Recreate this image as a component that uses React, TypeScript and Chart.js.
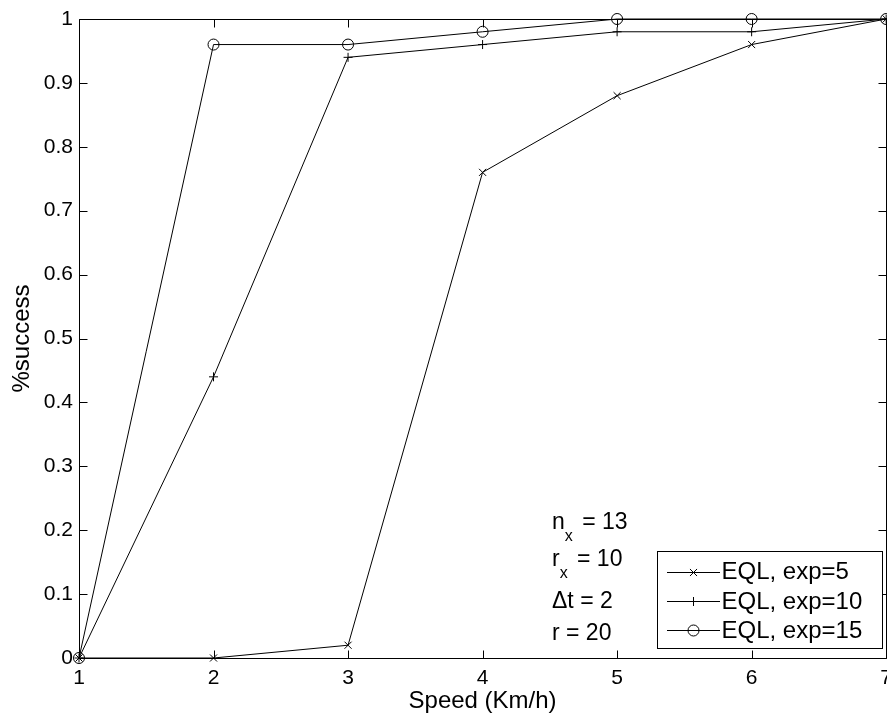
import React, { useEffect, useRef } from "react";
import { Chart, registerables } from "chart.js";
import { drawPoint } from "chart.js/helpers";

Chart.register(...registerables);

// Success rate vs. walking speed for three exploration budgets
const speeds = [1, 2, 3, 4, 5, 6, 7];
const successExp5 = [0, 0, 0.02, 0.76, 0.88, 0.96, 1];
const successExp10 = [0, 0.44, 0.94, 0.96, 0.98, 0.98, 1];
const successExp15 = [0, 0.96, 0.96, 0.98, 1, 1, 1];
const seriesLabels = ["EQL, exp=5", "EQL, exp=10", "EQL, exp=15"];
const seriesMarkers = ["crossRot", "cross", "circle"];
const markerRadii = [5, 4.5, 5.5];

const xTickValues = [1, 2, 3, 4, 5, 6, 7];
const yTickValues = [0, 0.1, 0.2, 0.3, 0.4, 0.5, 0.6, 0.7, 0.8, 0.9, 1];

// Simulation parameters shown inside the axes: [main, subscript, rest]
const paramLines: [string, string, string][] = [
  ["n", "x", " = 13"],
  ["r", "x", " = 10"],
  ["\u0394t = 2", "", ""],
  ["r = 20", "", ""],
];

const FONT = "'Liberation Sans', Arial, Helvetica, sans-serif";
const TICK_LEN = 8;

// Axes box with inward-pointing ticks on all four sides
const boxTicksPlugin = {
  id: "boxTicks",
  beforeDatasetsDraw(chart: any) {
    const { ctx, chartArea, scales } = chart;
    const { left, right, top, bottom } = chartArea;
    ctx.save();
    ctx.strokeStyle = "#000";
    ctx.lineWidth = 1;
    ctx.beginPath();
    const l = Math.round(left) + 0.5;
    const r = Math.round(right) + 0.5;
    const t = Math.round(top) + 0.5;
    const b = Math.round(bottom) + 0.5;
    ctx.rect(l, t, r - l, b - t);
    for (const v of xTickValues) {
      const px = Math.round(scales.x.getPixelForValue(v)) + 0.5;
      ctx.moveTo(px, b);
      ctx.lineTo(px, b - TICK_LEN);
      ctx.moveTo(px, t);
      ctx.lineTo(px, t + TICK_LEN);
    }
    for (const v of yTickValues) {
      const py = Math.round(scales.y.getPixelForValue(v)) + 0.5;
      ctx.moveTo(l, py);
      ctx.lineTo(l + TICK_LEN, py);
      ctx.moveTo(r, py);
      ctx.lineTo(r - TICK_LEN, py);
    }
    ctx.stroke();
    ctx.restore();
  },
};

// Legend box in the lower right corner, line sample with marker
const legendPlugin = {
  id: "boxLegend",
  afterDatasetsDraw(chart: any) {
    const { ctx } = chart;
    const boxL = 657.5, boxT = 551.5, boxW = 225, boxH = 97;
    ctx.save();
    ctx.fillStyle = "#fff";
    ctx.fillRect(boxL, boxT, boxW, boxH);
    ctx.strokeStyle = "#000";
    ctx.lineWidth = 1;
    ctx.strokeRect(boxL, boxT, boxW, boxH);
    const rowY = [572, 601, 630];
    const textBase = [579, 608.5, 638];
    chart.data.datasets.forEach((ds: any, i: number) => {
      const y = rowY[i] + 0.5;
      ctx.strokeStyle = "#000";
      ctx.lineWidth = 1;
      ctx.beginPath();
      ctx.moveTo(667, y);
      ctx.lineTo(720, y);
      ctx.stroke();
      ctx.fillStyle = "rgba(0,0,0,0)";
      ctx.strokeStyle = "#000";
      drawPoint(
        ctx,
        { pointStyle: ds.pointStyle, radius: ds.pointRadius, rotation: 0, borderWidth: 1 } as any,
        693.5,
        y
      );
      ctx.fillStyle = "#000";
      ctx.font = `24px ${FONT}`;
      ctx.textBaseline = "alphabetic";
      ctx.textAlign = "left";
      ctx.fillText(ds.label, 721.5, textBase[i]);
    });
    ctx.restore();
  },
};

// Parameter annotation with subscripts
const paramsPlugin = {
  id: "params",
  afterDatasetsDraw(chart: any) {
    const { ctx } = chart;
    const baselines = [529, 566, 608, 640];
    ctx.save();
    ctx.fillStyle = "#000";
    ctx.textBaseline = "alphabetic";
    ctx.textAlign = "left";
    paramLines.forEach(([main, sub, rest], i) => {
      let x = 552;
      const y = baselines[i];
      ctx.font = `23px ${FONT}`;
      ctx.fillText(main, x, y);
      x += ctx.measureText(main).width;
      if (sub) {
        ctx.font = `16px ${FONT}`;
        ctx.fillText(sub, x, y + 12);
        x += ctx.measureText(sub).width + 3;
        ctx.font = `23px ${FONT}`;
        ctx.fillText(rest, x, y);
      }
    });
    ctx.restore();
  },
};

export default function App() {
  const canvasRef = useRef<HTMLCanvasElement | null>(null);

  useEffect(() => {
    const canvas = canvasRef.current;
    if (!canvas) return;
    const series = [successExp5, successExp10, successExp15];
    const chart = new Chart(canvas, {
      type: "line",
      data: {
        datasets: series.map((vals, i) => ({
          label: seriesLabels[i],
          data: speeds.map((s, k) => ({ x: s, y: vals[k] })),
          borderColor: "#000",
          borderWidth: 1,
          backgroundColor: "rgba(0,0,0,0)",
          pointStyle: seriesMarkers[i] as any,
          pointRadius: markerRadii[i],
          pointBorderWidth: 1,
          pointBorderColor: "#000",
          pointBackgroundColor: "rgba(0,0,0,0)",
          tension: 0,
          fill: false,
          clip: false as any,
        })),
      },
      options: {
        responsive: false,
        devicePixelRatio: 1,
        animation: false,
        events: [],
        layout: { padding: { left: 0, top: 19, right: 11, bottom: 0 } },
        plugins: { legend: { display: false }, tooltip: { enabled: false } },
        scales: {
          x: {
            type: "linear",
            min: 1,
            max: 7,
            grid: { display: false, drawTicks: false },
            border: { display: false },
            afterBuildTicks: (s: any) => {
              s.ticks = xTickValues.map((v) => ({ value: v }));
            },
            afterFit: (s: any) => {
              s.height = 58;
            },
            ticks: {
              padding: 8,
              color: "#000",
              font: { family: FONT, size: 21 },
              maxRotation: 0,
              autoSkip: false,
              callback: (v: any) => String(v),
            },
            title: {
              display: true,
              text: "Speed (Km/h)",
              color: "#000",
              font: { family: FONT, size: 24 },
              padding: { top: 0, bottom: 0 },
            },
          },
          y: {
            type: "linear",
            min: 0,
            max: 1,
            grid: { display: false, drawTicks: false },
            border: { display: false },
            afterBuildTicks: (s: any) => {
              s.ticks = yTickValues.map((v) => ({ value: v }));
            },
            afterFit: (s: any) => {
              s.width = 79;
            },
            ticks: {
              padding: 6,
              color: "#000",
              font: { family: FONT, size: 21 },
              autoSkip: false,
              callback: (v: any) => String(v),
            },
            title: {
              display: true,
              text: "%success",
              color: "#000",
              font: { family: FONT, size: 24 },
              padding: { top: 8, bottom: 0 },
            },
          },
        },
      },
      plugins: [boxTicksPlugin, legendPlugin, paramsPlugin],
    });
    return () => chart.destroy();
  }, []);

  return (
    <div
      style={{
        position: "fixed",
        left: 0,
        top: 0,
        width: 887,
        height: 716,
        overflow: "hidden",
        background: "#fff",
      }}
    >
      <canvas ref={canvasRef} width={900} height={716} style={{ display: "block" }} />
    </div>
  );
}
